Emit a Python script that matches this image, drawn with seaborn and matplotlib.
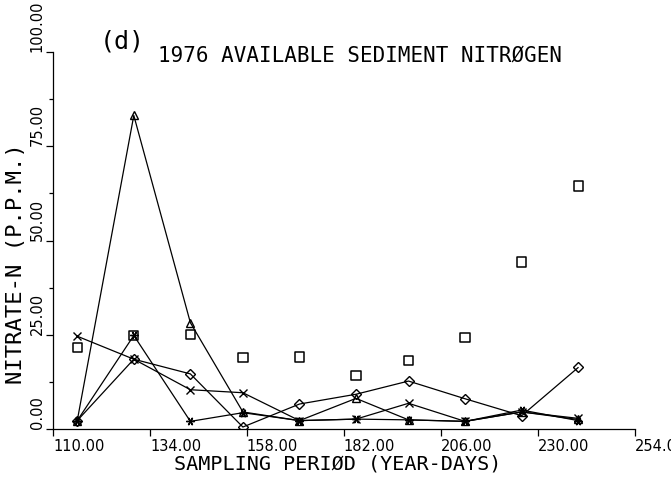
import numpy as np
import pandas as pd
import seaborn as sns
import matplotlib.pyplot as plt
import matplotlib.transforms as mtransforms

# sampling days (year-days) and nitrate values
days = [116, 130, 144, 157, 171, 185, 198, 212, 226, 240]
square_vals = [21.6, 24.8, 25.0, 18.9, 19.1, 14.1, 18.2, 24.3, 44.3, 64.5]
triangle_vals = [2.2, 83.2, 28.2, 4.5, 2.2, 8.1, 2.4, 2.0, 4.5, 2.5]
diamond_vals = [2.2, 18.5, 14.6, 0.5, 6.6, 9.2, 12.7, 8.0, 3.5, 16.3]
cross_vals = [24.6, 18.5, 10.4, 9.6, 2.2, 2.6, 6.8, 2.0, 4.5, 2.8]
star_vals = [2.2, 24.8, 2.0, 4.3, 2.2, 2.6, 2.4, 2.0, 5.0, 2.2]

x_ticks = [110, 134, 158, 182, 206, 230, 254]
y_ticks = [0, 25, 50, 75, 100]

sns.set_style("ticks")
plt.rcParams['font.family'] = ['DejaVu Sans Mono']
plt.rcParams.update({'text.color': 'black', 'axes.labelcolor': 'black',
                     'xtick.color': 'black', 'ytick.color': 'black'})

fig = plt.figure(figsize=(6.71, 4.83), dpi=100)
ax = fig.add_axes([0.079, 0.112, 0.867, 0.78])

line_kw = dict(color='black', linewidth=0.9, markersize=6,
               markerfacecolor='none', markeredgecolor='black', markeredgewidth=1.0)

# connected series
sns.lineplot(x=days, y=triangle_vals, marker='^', ax=ax, **line_kw)
sns.lineplot(x=days, y=diamond_vals, marker='D', ax=ax, **{**line_kw, 'markersize': 5})
sns.lineplot(x=days, y=cross_vals, marker='x', ax=ax, **line_kw)
sns.lineplot(x=days, y=star_vals, marker=(6, 2, 90), ax=ax, **line_kw)

# squares only, no line
sns.scatterplot(x=days, y=square_vals, marker='s', s=45, facecolor='none',
                edgecolor='black', linewidth=1.1, ax=ax)

ax.set_xlim(110, 254)
ax.set_ylim(0, 100)
ax.set_xticks(x_ticks)
ax.set_xticklabels([f"{t:.2f}" for t in x_ticks], ha='left',
                   fontsize=10.5, family='DejaVu Sans', color='black')
shift = mtransforms.ScaledTranslation(-5 / 100, 0, fig.dpi_scale_trans)
for lab in ax.get_xticklabels():
    lab.set_transform(lab.get_transform() + shift)
ax.set_yticks(y_ticks)
ax.set_yticks([12.5, 37.5, 62.5, 87.5], minor=True)
ax.set_yticklabels([f"{t:.2f}" for t in y_ticks], rotation=90, va='bottom',
                   fontsize=10.5, family='DejaVu Sans', color='black')
ax.tick_params(axis='both', direction='out', length=5, width=0.9, color='black')
ax.tick_params(axis='y', which='minor', length=3, width=0.9)
ax.tick_params(axis='x', pad=2)
ax.tick_params(axis='y', pad=1)

sns.despine(ax=ax)
for side in ['left', 'bottom']:
    ax.spines[side].set_linewidth(0.9)
    ax.spines[side].set_color('black')

ax.set_xlabel('SAMPLING PERIØD (YEAR-DAYS)', fontsize=14.5, color='black')
ax.xaxis.set_label_coords(0.49, -0.068)
ax.set_ylabel('NITRATE-N (P.P.M.)', fontsize=16, color='black')
ax.yaxis.set_label_coords(-0.047, 0.44)

fig.text(0.149, 0.915, '(d)', fontsize=18, va='center', color='black')
fig.text(0.235, 0.885, '1976 AVAILABLE SEDIMENT NITRØGEN', fontsize=15,
         va='center', color='black')

fig.savefig('out.png', dpi=100)
